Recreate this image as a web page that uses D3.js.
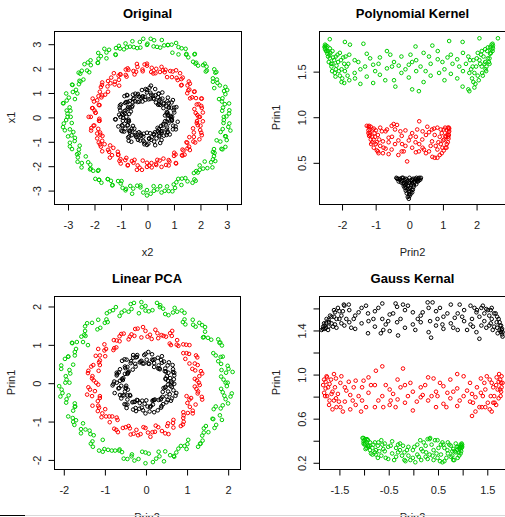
<!DOCTYPE html>
<html>
<head>
<meta charset="utf-8">
<script src="https://cdn.jsdelivr.net/npm/d3@7"></script>
<style>
  body { margin: 0; background: #fff; }
  svg { display: block; }
</style>
</head>
<body>
<script>
const GREEN = '#00cd00', RED = '#ff0000', BLACK = '#000000';

// --- Original (x2 across, x1 up) ---
const origGreen = [
  [3.00,0.02],[2.84,0.25],[3.10,0.55],[2.85,0.76],[2.91,1.06],[2.54,1.18],[2.64,1.53],[2.62,1.84],[2.22,1.86],
  [2.12,2.12],[1.83,2.18],[1.81,2.58],[1.48,2.55],[1.31,2.81],[0.96,2.63],[0.79,2.95],[0.56,3.15],[0.25,2.89],
  [0.02,3.00],[-0.25,2.84],[-0.55,3.10],[-0.76,2.85],[-1.06,2.91],[-1.18,2.54],[-1.53,2.64],[-1.84,2.62],[-1.86,2.22],
  [-2.12,2.12],[-2.18,1.83],[-2.58,1.81],[-2.55,1.48],[-2.81,1.31],[-2.63,0.96],[-2.95,0.79],[-3.15,0.56],[-2.89,0.25],
  [-3.00,0.00],[-2.84,-0.25],[-3.10,-0.55],[-2.85,-0.76],[-2.91,-1.06],[-2.54,-1.18],[-2.64,-1.53],[-2.62,-1.84],[-2.22,-1.86],
  [-2.12,-2.12],[-1.83,-2.18],[-1.81,-2.58],[-1.48,-2.55],[-1.31,-2.81],[-0.96,-2.63],[-0.79,-2.95],[-0.56,-3.15],[-0.25,-2.89],
  [0.00,-3.00],[0.25,-2.84],[0.55,-3.10],[0.76,-2.85],[1.06,-2.91],[1.18,-2.54],[1.53,-2.64],[1.84,-2.62],[1.86,-2.22],
  [2.12,-2.12],[2.18,-1.83],[2.58,-1.81],[2.55,-1.48],[2.81,-1.31],[2.63,-0.96],[2.95,-0.79],[3.15,-0.56],[2.89,-0.25],
  [3.10,0.14],[2.83,0.63],[2.96,1.23],[2.49,1.58],[2.25,2.06],[1.74,2.26],[1.46,2.79],[0.93,2.96],[0.38,2.87],
  [-0.14,3.20],[-0.64,2.88],[-1.17,2.82],[-1.53,2.40],[-2.13,2.32],[-2.46,1.89],[-2.57,1.34],[-3.05,0.96],[-2.92,0.39],
  [-3.05,-0.13],[-2.78,-0.62],[-2.91,-1.21],[-2.61,-1.66],[-2.14,-1.96],[-1.95,-2.54],[-1.36,-2.62],[-0.92,-2.91],[-0.37,-2.82],
  [0.14,-3.15],[0.67,-3.03],[1.11,-2.68],[1.72,-2.70],[1.99,-2.17],[2.42,-1.86],[2.53,-1.32],[3.01,-0.95],[3.07,-0.41],
  [2.87,0.38],[2.96,0.93],[2.66,1.39],[2.54,1.95],[1.93,2.10],[1.56,2.44],[1.19,2.86],[0.65,2.93],[0.14,3.20],
  [-0.37,2.82],[-0.87,2.77],[-1.43,2.75],[-1.83,2.38],[-2.36,2.16],[-2.40,1.53],[-2.68,1.11],[-3.03,0.67],[-3.00,0.13],
  [-3.17,-0.42],[-2.72,-0.86],[-2.57,-1.34],[-2.46,-1.89],[-2.03,-2.21],[-1.72,-2.70],[-1.09,-2.63],[-0.63,-2.83],[-0.14,-3.10],
  [0.39,-2.97],[0.96,-3.05],[1.32,-2.53],[1.77,-2.30],[2.28,-2.10],[2.53,-1.61],[2.96,-1.23],[2.78,-0.62],[2.90,-0.13],
  [2.90,0.00],[3.11,0.27],[2.94,0.52],[2.72,0.73],[3.03,1.10],[2.75,1.29],[2.49,1.44],[2.58,1.81],[2.26,1.90],
  [2.18,2.18],[1.86,2.22],[1.79,2.56],[1.49,2.58],[1.19,2.56],[1.10,3.03],[0.79,2.94],[0.50,2.84],[0.27,3.14],
  [0.00,2.95],[-0.27,3.07],[-0.50,2.86],[-0.81,3.01],[-1.02,2.80],[-1.19,2.56],[-1.61,2.79],[-1.74,2.49],[-1.85,2.21],
  [-2.23,2.23],[-2.26,1.90],[-2.52,1.77],[-2.51,1.45],[-2.83,1.32],[-2.80,1.02],[-2.72,0.73],[-3.17,0.56],[-3.03,0.26],
  [-2.88,0.00],[-3.14,-0.27],[-2.91,-0.51],[-2.98,-0.80],[-2.73,-0.99],[-2.83,-1.32],[-2.58,-1.49],[-2.31,-1.62],[-2.47,-2.07],
  [-2.15,-2.15],[-1.85,-2.21],[-1.81,-2.58],[-1.48,-2.55],[-1.30,-2.79],[-0.99,-2.73],[-0.81,-3.01],[-0.52,-2.94],[-0.25,-2.81],
  [0.00,-3.22],[0.26,-3.03],[0.50,-2.84],[0.82,-3.04],[1.01,-2.77],[1.30,-2.79],[1.45,-2.51],[1.79,-2.56],[1.92,-2.28],
  [1.99,-1.99],[2.47,-2.07],[2.49,-1.74],[2.49,-1.44],[2.85,-1.33],[2.77,-1.01],[2.98,-0.80],[2.86,-0.50],[3.11,-0.27]
];
const origRed = [
  [2.00,0.00],[1.84,0.16],[2.07,0.37],[1.88,0.51],[2.07,0.75],[1.63,0.76],[1.78,1.03],[1.56,1.09],[1.53,1.29],
  [1.31,1.31],[1.35,1.61],[1.12,1.60],[1.10,1.91],[0.76,1.63],[0.70,1.93],[0.49,1.84],[0.35,1.97],[0.16,1.84],
  [0.00,2.10],[-0.17,1.94],[-0.38,2.17],[-0.47,1.74],[-0.70,1.93],[-0.80,1.72],[-1.00,1.73],[-1.06,1.52],[-1.35,1.61],
  [-1.38,1.38],[-1.69,1.41],[-1.47,1.03],[-1.78,1.03],[-1.72,0.80],[-1.88,0.68],[-1.79,0.48],[-2.07,0.36],[-1.94,0.17],
  [-2.20,0.00],[-1.79,-0.16],[-2.02,-0.36],[-1.84,-0.49],[-1.88,-0.68],[-1.68,-0.78],[-1.82,-1.05],[-1.60,-1.12],[-1.69,-1.41],
  [-1.27,-1.27],[-1.32,-1.57],[-1.09,-1.56],[-1.00,-1.73],[-0.78,-1.68],[-0.72,-1.97],[-0.51,-1.88],[-0.38,-2.17],[-0.16,-1.79],
  [0.00,-2.05],[0.17,-1.89],[0.35,-1.97],[0.48,-1.79],[0.72,-1.97],[0.82,-1.77],[1.10,-1.91],[1.03,-1.47],[1.32,-1.57],
  [1.34,-1.34],[1.53,-1.29],[1.52,-1.06],[1.82,-1.05],[1.77,-0.82],[2.07,-0.75],[1.74,-0.47],[2.02,-0.36],[1.89,-0.17],
  [1.90,0.08],[2.05,0.45],[1.85,0.77],[1.52,0.97],[1.58,1.45],[1.16,1.51],[0.97,1.86],[0.60,1.91],[0.24,1.78],
  [-0.09,2.15],[-0.41,1.85],[-0.80,1.94],[-1.07,1.69],[-1.22,1.33],[-1.70,1.31],[-1.69,0.88],[-2.00,0.63],[-1.98,0.26],
  [-1.80,-0.08],[-2.10,-0.46],[-1.76,-0.73],[-1.77,-1.13],[-1.47,-1.35],[-1.10,-1.43],[-0.99,-1.91],[-0.57,-1.81],[-0.28,-2.08],
  [0.09,-2.00],[0.39,-1.76],[0.82,-1.99],[1.02,-1.60],[1.42,-1.55],[1.59,-1.22],[1.60,-0.83],[2.05,-0.65],[1.88,-0.25],
  [-1.05,1.28],
  [1.95,0.00],[2.11,0.18],[1.79,0.32],[1.95,0.52],[2.05,0.75],[1.70,0.80],[1.80,1.04],[1.60,1.12],[1.62,1.36],
  [1.29,1.29],[1.30,1.55],[1.25,1.79],[0.94,1.63],[0.88,1.88],[0.67,1.83],[0.55,2.05],[0.32,1.79],[0.18,2.01],
  [0.00,2.18],[-0.16,1.87],[-0.36,2.05],[-0.51,1.88],[-0.73,1.99],[-0.77,1.65],[-1.01,1.75],[-1.25,1.79],[-1.21,1.44],
  [-1.47,1.47],[-1.49,1.25],[-1.74,1.22],[-1.58,0.91],[-1.83,0.85],[-2.05,0.75],[-1.82,0.49],[-2.05,0.36],[-1.94,0.17],
  [-2.12,0.00],[-1.81,-0.16],[-1.99,-0.35],[-2.11,-0.56],[-1.77,-0.64],[-1.88,-0.88],[-1.69,-0.98],[-1.74,-1.22],[-1.39,-1.17],
  [-1.43,-1.43],[-1.40,-1.67],[-1.08,-1.54],[-1.04,-1.80],[-0.82,-1.77],[-0.73,-1.99],[-0.47,-1.76],[-0.35,-1.99],[-0.19,-2.17],
  [0.00,-1.88],[0.18,-2.07],[0.34,-1.92],[0.55,-2.05],[0.62,-1.71],[0.85,-1.83],[1.09,-1.89],[1.08,-1.54],[1.34,-1.59],
  [1.38,-1.38],[1.62,-1.36],[1.49,-1.04],[1.75,-1.01],[1.98,-0.92],[1.77,-0.64],[2.01,-0.54],[1.92,-0.34],[2.11,-0.18]
];
const origBlack = [
  [0.95,0.00],[0.74,0.13],[1.03,0.38],[0.74,0.43],[0.77,0.64],[0.45,0.54],[0.58,1.00],[0.32,0.89],[0.13,0.74],
  [0.00,1.10],[-0.15,0.84],[-0.34,0.94],[-0.35,0.61],[-0.74,0.88],[-0.73,0.61],[-0.65,0.38],[-1.03,0.38],[-0.84,0.15],
  [-1.00,0.00],[-0.69,-0.12],[-1.08,-0.39],[-0.82,-0.48],[-0.57,-0.48],[-0.71,-0.84],[-0.43,-0.74],[-0.34,-0.94],[-0.12,-0.69],
  [0.00,-1.15],[0.16,-0.94],[0.26,-0.70],[0.55,-0.95],[0.55,-0.65],[0.77,-0.64],[0.61,-0.35],[1.08,-0.39],[0.94,-0.16],
  [0.80,0.07],[1.01,0.27],[0.82,0.38],[0.98,0.69],[0.49,0.49],[0.46,0.66],[0.44,0.95],[0.23,0.87],[0.10,1.20],
  [-0.06,0.70],[-0.21,0.77],[-0.44,0.95],[-0.52,0.74],[-0.85,0.85],[-0.57,0.40],[-0.73,0.34],[-1.01,0.27],[-0.90,0.08],
  [-1.20,-0.10],[-0.68,-0.18],[-0.72,-0.34],[-0.86,-0.60],[-0.64,-0.64],[-0.69,-0.98],[-0.30,-0.63],[-0.21,-0.77],[-0.09,-1.05],
  [0.08,-0.90],[0.31,-1.16],[0.30,-0.63],[0.46,-0.66],[0.74,-0.74],[0.74,-0.52],[1.09,-0.51],[0.68,-0.18],[0.80,-0.07],
  [0.90,0.04],[0.78,0.17],[0.92,0.38],[0.93,0.59],[0.63,0.57],[0.58,0.75],[0.42,0.80],[0.24,0.76],[0.13,0.99],
  [-0.05,1.14],[-0.18,0.83],[-0.36,0.88],[-0.48,0.76],[-0.54,0.59],[-0.79,0.61],[-0.98,0.51],[-0.81,0.26],[-0.94,0.12],
  [-0.90,-0.04],[-0.78,-0.17],[-0.92,-0.38],[-0.93,-0.59],[-0.63,-0.57],[-0.58,-0.75],[-0.42,-0.80],[-0.24,-0.76],[-0.13,-0.99],
  [0.05,-1.10],[0.18,-0.83],[0.36,-0.88],[0.48,-0.76],[0.54,-0.59],[0.79,-0.61],[0.98,-0.51],[0.81,-0.26],[0.94,-0.12],
  [0.40,-0.45],[0.45,-0.50],[0.15,1.28],
  [0.88,0.00],[0.68,0.06],[1.03,0.18],[0.75,0.20],[1.11,0.40],[0.83,0.39],[0.62,0.36],[0.82,0.57],[0.63,0.53],
  [0.79,0.79],[0.42,0.50],[0.50,0.72],[0.34,0.59],[0.44,0.95],[0.27,0.73],[0.31,1.14],[0.16,0.91],[0.06,0.72],
  [0.00,1.00],[-0.07,0.82],[-0.19,1.10],[-0.17,0.63],[-0.30,0.83],[-0.29,0.62],[-0.53,0.91],[-0.45,0.64],[-0.76,0.90],
  [-0.65,0.65],[-0.55,0.46],[-0.82,0.57],[-0.71,0.41],[-1.02,0.47],[-0.61,0.22],[-0.85,0.23],[-0.67,0.12],[-1.05,0.09],
  [-0.78,0.00],[-1.18,-0.10],[-0.91,-0.16],[-0.70,-0.19],[-0.94,-0.34],[-0.74,-0.35],[-0.97,-0.56],[-0.53,-0.37],[-0.67,-0.57],
  [-0.48,-0.48],[-0.67,-0.80],[-0.45,-0.64],[-0.59,-1.02],[-0.39,-0.83],[-0.25,-0.68],[-0.26,-0.97],[-0.14,-0.81],[-0.10,-1.12],
  [0.00,-0.65],[0.08,-0.88],[0.12,-0.67],[0.27,-1.01],[0.27,-0.73],[0.50,-1.07],[0.46,-0.80],[0.41,-0.59],[0.64,-0.77],
  [0.58,-0.58],[0.86,-0.72],[0.53,-0.37],[0.76,-0.44],[0.62,-0.29],[0.99,-0.36],[0.75,-0.20],[1.16,-0.20],[0.92,-0.08]
];

// --- Polynomial Kernel (Prin2 across, Prin1 up) ---
const polyGreen = [
  [2.50,1.78],[2.50,1.75],[2.49,1.80],[2.49,1.72],[2.46,1.74],[2.46,1.79],[2.42,1.76],[2.42,1.69],[2.35,1.64],[2.35,1.76],
  [2.27,1.74],[2.27,1.60],[2.17,1.55],[2.17,1.72],[2.05,1.70],[2.05,1.45],[1.92,1.38],[1.92,1.62],[1.77,1.66],[1.77,1.30],
  [1.61,1.50],[1.61,1.70],[1.44,1.42],[1.44,1.63],[1.25,1.68],[1.25,1.47],[1.06,1.52],[1.06,1.40],[0.86,1.63],[0.86,1.72],
  [0.65,1.45],[0.65,1.58],[0.44,1.70],[0.44,1.38],[0.22,1.50],[0.22,1.62],[0.00,1.57],[0.00,1.43],
  [-0.22,1.66],[-0.22,1.48],[-0.44,1.40],[-0.44,1.60],[-0.65,1.72],[-0.65,1.53],[-0.86,1.46],[-0.86,1.65],[-1.06,1.57],[-1.06,1.37],
  [-1.25,1.69],[-1.25,1.44],[-1.44,1.52],[-1.44,1.36],[-1.61,1.62],[-1.61,1.48],[-1.77,1.40],[-1.77,1.68],[-1.92,1.58],[-1.92,1.37],
  [-2.05,1.45],[-2.05,1.70],[-2.17,1.66],[-2.17,1.52],[-2.27,1.58],[-2.27,1.72],[-2.35,1.75],[-2.35,1.64],[-2.42,1.69],[-2.42,1.77],
  [-2.46,1.78],[-2.46,1.72],[-2.49,1.74],[-2.49,1.79],[-2.50,1.77],[-2.50,1.76],
  [2.65,1.86],[2.10,1.86],[1.60,1.82],[1.20,1.83],[0.70,1.78],[0.20,1.77],[-1.35,1.80],[-1.90,1.82],[-2.35,1.85],[-1.75,1.79],
  [0.10,1.30],[0.30,1.28],[-0.40,1.33],[1.80,1.28],[1.60,1.33],[-2.00,1.38],
  [2.30,1.50],[2.20,1.45],[2.00,1.55],[1.95,1.48],[2.10,1.62],[2.25,1.58],[-2.30,1.55],[-2.20,1.48],[-2.10,1.60],[-2.00,1.52],
  [-1.95,1.65],[-2.25,1.65],[1.85,1.52],[-1.85,1.55],[2.38,1.60],[-2.38,1.60],
  [0.50,1.50],[-0.50,1.55],[1.00,1.60],[-1.00,1.50],[0.10,1.60],[-0.10,1.52],[1.50,1.55],[-1.50,1.60],
  [-2.44,1.72],[-2.40,1.66],[-2.33,1.70],[-2.31,1.58],[-2.22,1.62],[-2.18,1.44],[-2.12,1.68],[-2.08,1.50],[-2.02,1.62],[-1.98,1.42],
  [-1.90,1.50],[-1.88,1.66],[-1.82,1.45],[-1.80,1.58],[-2.28,1.50],[-2.15,1.56],[-2.40,1.72],[-2.36,1.68],
  [2.44,1.70],[2.40,1.64],[2.33,1.72],[2.31,1.55],[2.22,1.66],[2.18,1.48],[2.12,1.58],[2.08,1.40],[2.02,1.64],[1.98,1.36],
  [1.90,1.55],[1.88,1.42],[1.82,1.62],[1.80,1.48],[2.28,1.52],[2.15,1.68],[2.40,1.58],[1.95,1.32],
  [-1.60,1.42],[-1.30,1.55],[-0.90,1.58],[-0.70,1.40],[-0.30,1.56],[0.35,1.55],[0.60,1.66],[0.90,1.48],[1.30,1.58],[1.70,1.58],
  [-1.15,1.64],[1.15,1.65],[0.05,1.68],[-0.55,1.68]
];
const polyRed = [
  [1.20,0.87],[1.20,0.84],[1.19,0.80],[1.19,0.88],[1.18,0.83],[1.18,0.76],[1.16,0.88],[1.16,0.72],[1.13,0.70],[1.13,0.85],
  [1.09,0.79],[1.09,0.66],[1.04,0.86],[1.04,0.63],[0.98,0.60],[0.98,0.82],[0.92,0.78],[0.92,0.58],[0.85,0.88],[0.85,0.64],
  [0.77,0.55],[0.77,0.80],[0.69,0.73],[0.69,0.86],[0.60,0.62],[0.60,0.83],[0.51,0.80],[0.51,0.60],[0.41,0.66],[0.41,0.84],
  [0.31,0.95],[0.31,0.70],[0.21,0.61],[0.21,0.78],[0.10,0.82],[0.10,0.66],[0.00,0.74],[-0.05,0.51],
  [-0.10,0.68],[-0.10,0.85],[-0.21,0.79],[-0.21,0.62],[-0.31,0.58],[-0.31,0.74],[-0.41,0.86],[-0.41,0.70],[-0.51,0.64],[-0.51,0.90],
  [-0.60,0.77],[-0.60,0.59],[-0.69,0.84],[-0.69,0.65],[-0.77,0.60],[-0.77,0.73],[-0.85,0.88],[-0.85,0.68],[-0.92,0.62],[-0.92,0.80],
  [-0.98,0.85],[-0.98,0.70],[-1.04,0.66],[-1.04,0.87],[-1.09,0.78],[-1.09,0.72],[-1.13,0.89],[-1.13,0.75],[-1.16,0.82],[-1.16,0.86],
  [-1.18,0.90],[-1.18,0.79],[-1.20,0.85],[-1.20,0.89],
  [-1.25,0.90],[0.55,0.89],[-0.45,0.92],[-0.35,0.91],[0.85,0.55],[0.70,0.56],[-0.90,0.60],[1.05,0.75],[-1.05,0.75],[0.95,0.70],
  [-0.95,0.72],[0.20,0.72],[-0.20,0.70],[0.40,0.75],[-0.60,0.72],[1.10,0.78],
  [1.15,0.80],[1.12,0.66],[1.08,0.88],[1.00,0.66],[0.95,0.86],[0.88,0.72],[0.80,0.68],[0.75,0.87],[1.17,0.78],[1.02,0.74],
  [-1.15,0.80],[-1.12,0.70],[-1.08,0.86],[-1.00,0.78],[-0.95,0.63],[-0.88,0.75],[-0.80,0.84],[-0.75,0.66],[-1.20,0.82],[-1.02,0.82],
  [0.30,0.62],[-0.15,0.62],[0.65,0.68],[-0.65,0.86],[0.45,0.64],[-0.50,0.78],[0.05,0.78],[0.25,0.86],[-0.25,0.84]
];
const polyBlack = [
  [0.00,0.10],[0.02,0.13],[-0.03,0.12],[0.05,0.15],[-0.06,0.16],[0.00,0.18],[0.08,0.20],[-0.09,0.19],[0.04,0.22],[-0.02,0.24],
  [0.12,0.20],[-0.12,0.22],[0.15,0.25],[-0.15,0.24],[0.10,0.27],[-0.10,0.28],[0.00,0.28],[0.05,0.30],[-0.06,0.31],[0.18,0.28],
  [-0.18,0.27],[0.20,0.31],[-0.21,0.30],[0.24,0.30],[-0.25,0.32],[0.28,0.32],[-0.28,0.31],[0.31,0.33],[-0.32,0.32],[0.34,0.31],
  [-0.35,0.32],[0.13,0.32],[-0.13,0.31],[0.22,0.26],[-0.23,0.28],[0.07,0.25],[-0.04,0.20],[0.10,0.17],[-0.08,0.26],[0.16,0.29],
  [-0.17,0.33],[0.27,0.29],
  [0.01,0.15],[-0.01,0.21],[0.03,0.27],[-0.05,0.29],[0.09,0.31],[-0.09,0.32],[0.14,0.23],[-0.14,0.27],[0.19,0.32],[-0.20,0.33],
  [0.23,0.33],[0.30,0.30],[-0.30,0.29],[0.06,0.18],[-0.07,0.22],[0.11,0.30],[-0.11,0.25],[0.36,0.33],[-0.37,0.33],[0.02,0.33]
];

// --- Linear PCA (Prin2 across, Prin1 up) ---
const pcaGreen = [
  [1.95,0.00],[1.84,0.16],[2.02,0.36],[1.84,0.49],[1.88,0.68],[1.65,0.77],[1.80,1.04],[1.60,1.12],[1.42,1.19],
  [1.45,1.45],[1.22,1.46],[1.15,1.64],[0.91,1.58],[0.88,1.88],[0.67,1.83],[0.48,1.79],[0.36,2.02],[0.17,1.89],
  [0.00,2.00],[-0.16,1.81],[-0.36,2.05],[-0.51,1.88],[-0.63,1.74],[-0.87,1.86],[-0.95,1.65],[-1.15,1.64],[-1.17,1.39],
  [-1.47,1.47],[-1.49,1.25],[-1.52,1.06],[-1.78,1.03],[-1.72,0.80],[-1.88,0.68],[-1.76,0.47],[-2.05,0.36],[-1.94,0.17],
  [-1.85,0.00],[-2.04,-0.18],[-1.87,-0.33],[-1.93,-0.52],[-1.71,-0.62],[-1.88,-0.88],[-1.69,-0.98],[-1.52,-1.06],[-1.57,-1.32],
  [-1.34,-1.34],[-1.29,-1.53],[-1.04,-1.49],[-1.04,-1.80],[-0.82,-1.77],[-0.63,-1.74],[-0.53,-1.98],[-0.33,-1.87],[-0.17,-1.99],
  [0.00,-1.82],[0.18,-2.07],[0.34,-1.92],[0.48,-1.79],[0.70,-1.93],[0.80,-1.72],[1.00,-1.73],[1.04,-1.49],[1.34,-1.59],
  [1.38,-1.38],[1.42,-1.19],[1.68,-1.18],[1.65,-0.95],[1.81,-0.85],[1.71,-0.62],[2.01,-0.54],[1.92,-0.34],[1.84,-0.16],
  [1.90,0.08],[2.00,0.44],[1.71,0.71],[1.77,1.13],[1.45,1.33],[1.16,1.51],[0.95,1.82],[0.56,1.76],[0.28,2.08],
  [-0.09,1.97],[-0.41,1.85],[-0.79,1.89],[-0.99,1.56],[-1.42,1.55],[-1.56,1.20],[-1.69,0.88],[-1.96,0.62],[-1.83,0.24],
  [-2.10,-0.09],[-1.92,-0.43],[-1.76,-0.73],[-1.73,-1.10],[-1.36,-1.25],[-1.28,-1.67],[-0.91,-1.75],[-0.57,-1.81],[-0.27,-2.03],
  [0.08,-1.85],[0.45,-2.05],[0.75,-1.82],[1.02,-1.60],[1.39,-1.51],[1.47,-1.13],[1.86,-0.97],[1.88,-0.59],[1.88,-0.25],
  [2.12,0.28],[2.10,-0.28],[-0.10,2.10],[-1.40,0.98],
  [1.96,0.26],[1.77,0.56],[1.86,0.97],[1.52,1.17],[1.38,1.50],[0.97,1.52],[0.77,1.85],[0.43,1.93],[0.08,1.86],
  [-0.28,2.08],[-0.58,1.83],[-0.94,1.81],[-1.10,1.43],[-1.47,1.35],[-1.67,1.06],[-1.72,0.71],[-2.05,0.45],[-1.92,0.08],
  [-2.02,-0.27],[-1.72,-0.54],[-1.77,-0.92],[-1.57,-1.21],[-1.26,-1.37],[-1.13,-1.77],[-0.74,-1.77],[-0.44,-1.99],[-0.08,-1.80],
  [0.26,-1.98],[0.60,-1.89],[0.86,-1.65],[1.28,-1.67],[1.42,-1.30],[1.72,-1.10],[1.66,-0.69],[1.95,-0.43],[1.98,-0.09],
  [2.00,0.00],[1.85,0.33],[1.83,0.67],[1.82,1.05],[1.40,1.18],[1.31,1.56],[0.95,1.65],[0.71,1.95],[0.35,1.97],
  [0.00,1.88],[-0.34,1.92],[-0.72,1.97],[-0.92,1.58],[-1.30,1.56],[-1.46,1.22],[-1.79,1.04],[-1.88,0.68],[-1.85,0.33],
  [-1.95,0.00],[-2.07,-0.36],[-1.72,-0.63],[-1.76,-1.02],[-1.46,-1.22],[-1.33,-1.59],[-1.00,-1.73],[-0.64,-1.77],[-0.34,-1.92],
  [0.00,-2.10],[0.32,-1.80],[0.69,-1.91],[0.95,-1.65],[1.33,-1.59],[1.53,-1.29],[1.63,-0.94],[1.83,-0.67],[2.07,-0.36]
];
const pcaRed = [
  [1.30,0.00],[1.20,0.10],[1.38,0.24],[1.21,0.32],[1.27,0.46],[1.07,0.50],[1.23,0.71],[1.06,0.75],[0.92,0.77],
  [0.99,0.99],[0.80,0.96],[0.77,1.11],[0.59,1.02],[0.60,1.29],[0.44,1.22],[0.31,1.16],[0.24,1.38],[0.11,1.25],
  [0.00,1.35],[-0.10,1.18],[-0.25,1.40],[-0.34,1.26],[-0.41,1.13],[-0.59,1.27],[-0.63,1.08],[-0.77,1.11],[-0.76,0.90],
  [-1.00,1.00],[-1.00,0.84],[-0.98,0.69],[-1.21,0.70],[-1.13,0.53],[-1.27,0.46],[-1.14,0.31],[-1.40,0.25],[-1.30,0.11],
  [-1.20,0.00],[-1.39,-0.12],[-1.23,-0.22],[-1.30,-0.35],[-1.11,-0.40],[-1.29,-0.60],[-1.13,-0.65],[-0.98,-0.69],[-1.07,-0.90],
  [-0.88,-0.88],[-0.87,-1.03],[-0.68,-0.97],[-0.71,-1.23],[-0.55,-1.18],[-0.41,-1.13],[-0.36,-1.35],[-0.22,-1.23],[-0.12,-1.34],
  [0.00,-1.18],[0.12,-1.41],[0.23,-1.28],[0.31,-1.16],[0.48,-1.32],[0.53,-1.13],[0.68,-1.17],[0.68,-0.97],[0.91,-1.09],
  [0.92,-0.92],[0.92,-0.77],[1.15,-0.80],[1.08,-0.63],[1.22,-0.57],[1.11,-0.40],[1.37,-0.37],[1.28,-0.23],[1.20,-0.10],
  [1.25,0.06],[1.35,0.30],[1.20,0.50],[0.97,0.62],[1.07,0.98],[0.76,0.99],[0.64,1.22],[0.39,1.24],[0.15,1.14],
  [-0.06,1.45],[-0.27,1.22],[-0.53,1.28],[-0.70,1.10],[-0.78,0.85],[-1.15,0.88],[-1.11,0.58],[-1.32,0.42],[-1.29,0.17],
  [-1.15,-0.05],[-1.42,-0.31],[-1.16,-0.48],[-1.16,-0.74],[-0.96,-0.88],[-0.70,-0.91],[-0.67,-1.29],[-0.38,-1.19],[-0.18,-1.37],
  [0.06,-1.30],[0.25,-1.12],[0.56,-1.34],[0.67,-1.05],[0.93,-1.02],[1.03,-0.79],[1.02,-0.53],[1.38,-0.44],[1.24,-0.16],
  [0.65,1.35],[1.00,-0.35],
  [1.31,0.17],[1.14,0.36],[1.26,0.66],[1.00,0.77],[0.92,1.00],[0.62,0.98],[0.50,1.20],[0.29,1.29],[0.05,1.20],
  [-0.19,1.41],[-0.38,1.20],[-0.63,1.21],[-0.71,0.92],[-0.96,0.88],[-1.11,0.71],[-1.11,0.46],[-1.39,0.31],[-1.26,0.06],
  [-1.35,-0.18],[-1.11,-0.35],[-1.15,-0.60],[-1.05,-0.80],[-0.81,-0.88],[-0.76,-1.20],[-0.48,-1.16],[-0.29,-1.33],[-0.05,-1.16],
  [0.17,-1.29],[0.40,-1.26],[0.55,-1.06],[0.86,-1.13],[0.93,-0.85],[1.15,-0.73],[1.07,-0.44],[1.27,-0.28],[1.32,-0.06]
];
const pcaBlack = [
  [0.65,0.00],[0.49,0.09],[0.70,0.26],[0.50,0.29],[0.54,0.45],[0.31,0.37],[0.40,0.69],[0.22,0.61],[0.09,0.49],
  [0.00,0.75],[-0.10,0.57],[-0.24,0.66],[-0.24,0.42],[-0.51,0.61],[-0.50,0.42],[-0.43,0.25],[-0.70,0.26],[-0.57,0.10],
  [-0.70,0.00],[-0.47,-0.08],[-0.75,-0.27],[-0.56,-0.33],[-0.38,-0.32],[-0.48,-0.57],[-0.29,-0.50],[-0.24,-0.66],[-0.08,-0.47],
  [0.00,-0.80],[0.11,-0.64],[0.17,-0.47],[0.38,-0.65],[0.37,-0.44],[0.54,-0.45],[0.42,-0.24],[0.75,-0.27],[0.64,-0.11],
  [0.55,0.05],[0.70,0.19],[0.56,0.26],[0.66,0.46],[0.35,0.35],[0.32,0.45],[0.30,0.65],[0.16,0.60],[0.07,0.80],
  [-0.04,0.50],[-0.14,0.53],[-0.30,0.65],[-0.36,0.51],[-0.57,0.57],[-0.41,0.29],[-0.50,0.23],[-0.70,0.19],[-0.62,0.05],
  [-0.80,-0.07],[-0.48,-0.13],[-0.50,-0.23],[-0.59,-0.41],[-0.44,-0.44],[-0.46,-0.66],[-0.21,-0.45],[-0.14,-0.53],[-0.06,-0.72],
  [0.05,-0.62],[0.21,-0.77],[0.21,-0.45],[0.32,-0.45],[0.51,-0.51],[0.51,-0.36],[0.73,-0.34],[0.48,-0.13],[0.55,-0.05],
  [0.60,0.12],[0.45,0.55],[-0.20,0.72],[-0.62,0.35],[-0.66,-0.15],[-0.30,-0.70],[0.30,-0.72],[0.68,-0.20],
  [0.62,0.03],[0.49,0.11],[0.67,0.28],[0.47,0.30],[0.57,0.53],[0.40,0.52],[0.21,0.41],[0.19,0.59],[0.07,0.50],
  [-0.03,0.72],[-0.12,0.55],[-0.30,0.72],[-0.35,0.56],[-0.31,0.34],[-0.49,0.38],[-0.44,0.23],[-0.69,0.22],[-0.55,0.07],
  [-0.78,-0.03],[-0.64,-0.14],[-0.43,-0.18],[-0.52,-0.33],[-0.37,-0.34],[-0.44,-0.57],[-0.26,-0.50],[-0.23,-0.74],[-0.09,-0.65],
  [0.02,-0.46],[0.13,-0.61],[0.19,-0.46],[0.39,-0.61],[0.38,-0.41],[0.62,-0.47],[0.59,-0.30],[0.44,-0.14],[0.61,-0.08],
  [0.69,0.09],[0.52,0.17],[0.67,0.35],[0.48,0.37],[0.34,0.37],[0.38,0.59],[0.21,0.51],[0.16,0.74],[0.03,0.60],
  [-0.07,0.50],[-0.21,0.67],[-0.25,0.49],[-0.46,0.60],[-0.44,0.41],[-0.42,0.27],[-0.65,0.27],[-0.54,0.12],[-0.76,0.03],
  [-0.59,-0.08],[-0.48,-0.15],[-0.62,-0.32],[-0.44,-0.33],[-0.51,-0.56],[-0.32,-0.51],[-0.19,-0.46],[-0.15,-0.68],[-0.02,-0.55],
  [0.10,-0.75],[0.18,-0.57],[0.23,-0.44],[0.43,-0.56],[0.41,-0.37],[0.64,-0.41],[0.55,-0.23],[0.49,-0.11],[0.70,-0.03]
];

// --- Gauss Kernal (Prin2 across, Prin1 up) ---
const gaussBlack = [
  [1.82,1.38],[1.82,1.34],[1.81,1.41],[1.81,1.36],[1.79,1.44],[1.79,1.38],[1.76,1.47],[1.76,1.40],[1.71,1.42],[1.71,1.52],
  [1.65,1.55],[1.65,1.43],[1.58,1.46],[1.58,1.58],[1.49,1.59],[1.49,1.42],[1.39,1.44],[1.39,1.60],[1.29,1.56],[1.29,1.38],
  [1.17,1.62],[1.17,1.45],[1.04,1.48],[1.04,1.58],[0.91,1.40],[0.91,1.55],[0.77,1.63],[0.77,1.46],[0.62,1.52],[0.62,1.41],
  [0.47,1.57],[0.47,1.44],[0.32,1.38],[0.32,1.60],[0.16,1.53],[0.16,1.47],[0.00,1.45],[0.00,1.56],
  [-0.16,1.58],[-0.16,1.42],[-0.32,1.47],[-0.32,1.61],[-0.47,1.39],[-0.47,1.54],[-0.62,1.64],[-0.62,1.50],[-0.77,1.43],[-0.77,1.57],
  [-0.91,1.55],[-0.91,1.37],[-1.04,1.60],[-1.04,1.46],[-1.17,1.41],[-1.17,1.53],[-1.29,1.58],[-1.29,1.47],[-1.39,1.62],[-1.39,1.44],
  [-1.49,1.50],[-1.49,1.57],[-1.58,1.56],[-1.58,1.45],[-1.65,1.52],[-1.65,1.46],[-1.71,1.49],[-1.71,1.43],[-1.76,1.46],[-1.76,1.42],
  [-1.79,1.44],[-1.79,1.41],[-1.82,1.41],[-1.82,1.43],
  [-1.40,1.63],[-0.35,1.64],[-0.20,1.63],[0.30,1.65],[0.40,1.65],[0.95,1.63],[1.30,1.58],[-0.65,1.37],[-0.30,1.35],[0.37,1.33],
  [1.35,1.32],[-1.60,1.52],[-1.55,1.50],[-1.70,1.47],[1.60,1.50],[1.55,1.53],[1.70,1.47],[1.45,1.55],[-1.45,1.53],[1.20,1.50],
  [-1.20,1.50],[0.50,1.50],[-0.50,1.48],[0.10,1.50],[-0.90,1.48],[0.85,1.51],
  [-1.85,1.40],[-1.80,1.46],[-1.75,1.50],[-1.72,1.40],[-1.68,1.53],[-1.62,1.43],[-1.60,1.58],[-1.55,1.42],[-1.52,1.60],[-1.45,1.46],
  [-1.42,1.57],[-1.35,1.50],[-1.30,1.63],[-1.25,1.42],[1.80,1.40],[1.77,1.44],[1.74,1.50],[1.72,1.37],[1.68,1.55],[1.62,1.40],
  [1.60,1.60],[1.55,1.44],[1.52,1.58],[1.45,1.48],[1.42,1.62],[1.35,1.52],[1.25,1.60],[1.22,1.43],
  [-1.10,1.56],[-0.95,1.62],[-0.80,1.50],[-0.70,1.60],[-0.55,1.45],[-0.40,1.55],[-0.25,1.50],[-0.10,1.62],[0.05,1.40],[0.20,1.56],
  [0.35,1.48],[0.55,1.60],[0.70,1.55],[0.82,1.42],[1.00,1.52],[1.10,1.40],[-0.60,1.40],[0.60,1.45]
];
const gaussRed = [
  [1.80,0.98],[1.80,0.88],[1.79,0.92],[1.79,0.84],[1.77,0.86],[1.77,0.95],[1.74,0.78],[1.74,0.93],[1.69,0.90],[1.69,0.72],
  [1.63,0.74],[1.63,0.88],[1.56,0.95],[1.56,0.68],[1.47,0.70],[1.47,0.86],[1.38,0.83],[1.38,0.96],[1.27,0.66],[1.27,0.79],
  [1.16,0.92],[1.16,0.75],[1.03,0.80],[1.03,0.98],[0.90,0.71],[0.90,0.87],[0.76,0.95],[0.76,0.78],[0.62,0.73],[0.62,0.89],
  [0.47,0.84],[0.47,0.70],[0.31,0.97],[0.31,0.76],[0.16,0.79],[0.16,0.88],[0.00,0.67],[0.00,0.84],
  [-0.16,0.90],[-0.16,0.74],[-0.31,0.77],[-0.31,0.95],[-0.47,0.72],[-0.47,0.86],[-0.62,1.07],[-0.62,0.80],[-0.77,0.70],[-0.77,0.90],
  [-0.90,0.83],[-0.90,0.97],[-1.03,0.76],[-1.03,0.88],[-1.16,0.94],[-1.16,0.72],[-1.27,0.81],[-1.27,0.68],[-1.38,0.88],[-1.38,0.75],
  [-1.47,0.70],[-1.47,0.92],[-1.56,0.78],[-1.56,0.96],[-1.63,0.68],[-1.63,0.84],[-1.69,0.91],[-1.69,0.76],[-1.74,0.80],[-1.74,0.97],
  [-1.77,0.87],[-1.77,0.93],[-1.80,0.95],[-1.80,0.83],
  [-0.20,1.05],[-0.75,1.03],[1.20,0.62],[-1.60,1.00],[0.90,1.00],[1.50,0.98],[-1.75,0.98],[1.75,1.00],[0.20,0.81],[-0.40,0.82],
  [0.50,0.80],[1.20,0.82],[-1.10,0.80],[1.65,0.80],[-1.65,0.82],[1.40,0.70],[-1.50,0.75],[1.60,0.66],[-1.55,0.70],[0.70,0.83],
  [-0.10,0.80],[-0.95,0.70],
  [-1.82,0.90],[-1.78,0.80],[-1.72,0.88],[-1.70,0.72],[-1.66,0.95],[-1.60,0.76],[-1.58,0.88],[-1.52,0.82],[-1.45,0.98],[-1.42,0.66],
  [-1.35,0.85],[-1.30,0.93],[-1.22,0.76],[-1.20,0.88],[1.82,0.92],[1.78,0.80],[1.72,0.86],[1.70,0.97],[1.66,0.74],[1.60,0.92],
  [1.58,0.80],[1.52,0.74],[1.45,0.92],[1.42,0.80],[1.35,0.70],[1.30,0.88],[1.22,0.74],[1.10,0.85],
  [-1.05,0.66],[-0.85,0.90],[-0.70,0.76],[-0.55,0.90],[-0.45,0.76],[-0.35,0.70],[-0.25,0.88],[-0.05,0.92],[0.08,0.75],[0.25,0.90],
  [0.38,0.80],[0.55,0.92],[0.68,0.70],[0.82,0.84],[0.95,0.76],[-1.00,0.94],[0.42,0.96],[-0.60,0.70]
];
const gaussGreen = [
  [1.00,0.36],[1.00,0.34],[0.99,0.33],[0.99,0.37],[0.98,0.30],[0.98,0.35],[0.97,0.36],[0.97,0.28],[0.94,0.26],[0.94,0.33],
  [0.91,0.34],[0.91,0.24],[0.87,0.29],[0.87,0.37],[0.82,0.22],[0.82,0.32],[0.77,0.35],[0.77,0.25],[0.71,0.28],[0.71,0.38],
  [0.64,0.21],[0.64,0.33],[0.57,0.36],[0.57,0.27],[0.50,0.24],[0.50,0.40],[0.42,0.31],[0.42,0.22],[0.34,0.41],[0.34,0.27],
  [0.26,0.25],[0.26,0.35],[0.17,0.32],[0.17,0.22],[0.09,0.27],[0.09,0.36],[0.00,0.24],[0.00,0.31],
  [-0.09,0.34],[-0.09,0.26],[-0.17,0.22],[-0.17,0.29],[-0.26,0.37],[-0.26,0.31],[-0.34,0.25],[-0.34,0.33],[-0.42,0.39],[-0.42,0.28],
  [-0.50,0.23],[-0.50,0.34],[-0.57,0.30],[-0.57,0.37],[-0.64,0.26],[-0.64,0.40],[-0.71,0.35],[-0.71,0.24],[-0.77,0.29],[-0.77,0.38],
  [-0.82,0.33],[-0.82,0.27],[-0.87,0.38],[-0.87,0.31],[-0.91,0.35],[-0.91,0.40],[-0.94,0.33],[-0.94,0.38],[-0.97,0.37],[-0.97,0.41],
  [-0.98,0.40],[-0.98,0.36],[-1.00,0.42],[-1.00,0.39],
  [-1.02,0.42],[0.35,0.42],[0.30,0.41],[0.45,0.40],[0.60,0.38],[0.05,0.20],[-0.15,0.21],[0.60,0.20],[0.80,0.26],[0.85,0.30],
  [0.90,0.31],[-0.90,0.34],[0.95,0.32],[-0.60,0.32],[0.20,0.30],[-0.30,0.29],[0.70,0.31],[-0.75,0.31],
  [-1.00,0.37],[-0.96,0.32],[-0.93,0.41],[-0.88,0.35],[-0.85,0.28],[-0.80,0.36],[-0.75,0.27],[-0.68,0.30],[-0.62,0.36],[-0.55,0.24],
  [-0.45,0.35],[-0.38,0.22],[-0.30,0.36],[-0.22,0.26],[-0.12,0.31],[-0.05,0.22],[0.03,0.34],[0.12,0.25],[0.22,0.38],[0.30,0.23],
  [0.38,0.36],[0.48,0.28],[0.55,0.21],[0.62,0.36],[0.68,0.24],[0.74,0.36],[0.80,0.30],[0.84,0.22],[0.89,0.34],[0.93,0.29],
  [0.96,0.34],[0.99,0.35],[0.40,0.26],[-0.70,0.38],[0.15,0.40],[0.52,0.33],[-0.20,0.35],[0.27,0.29]
];

// ticks and their printed labels
const origTicks = [-3, -2, -1, 0, 1, 2, 3];
const origLabels = ['-3', '-2', '-1', '0', '1', '2', '3'];
const polyXTicks = [-2, -1, 0, 1, 2];
const polyXLabels = ['-2', '-1', '0', '1', '2'];
const polyYTicks = [0.5, 1.0, 1.5];
const polyYLabels = ['0.5', '1.0', '1.5'];
const pcaTicks = [-2, -1, 0, 1, 2];
const pcaLabels = ['-2', '-1', '0', '1', '2'];
const gaussXTicks = [-1.5, -1, -0.5, 0, 0.5, 1, 1.5];
const gaussXLabels = ['-1.5', '', '-0.5', '', '0.5', '', '1.5'];
const gaussYTicks = [0.2, 0.4, 0.6, 0.8, 1.0, 1.2, 1.4, 1.6];
const gaussYLabels = ['0.2', '', '0.6', '', '1.0', '', '1.4', ''];

const FONT = '"Liberation Sans", Arial, Helvetica, sans-serif';

const panels = [
  { title: 'Original', xlab: 'x2', ylab: 'x1', box: [54, 31, 241, 204],
    xdom: [-3.51, 3.55], ydom: [-3.57, 3.52],
    xticks: origTicks, xlabels: origLabels, yticks: origTicks, ylabels: origLabels,
    groups: [[origGreen, GREEN], [origRed, RED], [origBlack, BLACK]] },
  { title: 'Polynomial Kernel', xlab: 'Prin2', ylab: 'Prin1', box: [319, 31, 506, 204],
    xdom: [-2.67, 2.89], ydom: [0.043, 1.94],
    xticks: polyXTicks, xlabels: polyXLabels, yticks: polyYTicks, ylabels: polyYLabels,
    groups: [[polyGreen, GREEN], [polyRed, RED], [polyBlack, BLACK]] },
  { title: 'Linear PCA', xlab: 'Prin2', ylab: 'Prin1', box: [54, 296, 240, 469],
    xdom: [-2.226, 2.30], ydom: [-2.25, 2.26],
    xticks: pcaTicks, xlabels: pcaLabels, yticks: pcaTicks, ylabels: pcaLabels,
    groups: [[pcaGreen, GREEN], [pcaRed, RED], [pcaBlack, BLACK]] },
  { title: 'Gauss Kernal', xlab: 'Prin2', ylab: 'Prin1', box: [319, 296, 507, 469],
    xdom: [-1.904, 1.91], ydom: [0.139, 1.708],
    xticks: gaussXTicks, xlabels: gaussXLabels, yticks: gaussYTicks, ylabels: gaussYLabels,
    groups: [[gaussBlack, BLACK], [gaussRed, RED], [gaussGreen, GREEN]] }
];

const svg = d3.select('body')
  .append('svg')
    .attr('width', 505)
    .attr('height', 517)
    .style('font-family', FONT);

svg.append('rect').attr('width', 505).attr('height', 517).attr('fill', '#fff');

panels.forEach(p => {
  const [l, t, r, b] = p.box;
  const x = d3.scaleLinear().domain(p.xdom).range([l, r]);
  const y = d3.scaleLinear().domain(p.ydom).range([b, t]);
  const g = svg.append('g');

  p.groups.forEach(([pts, col]) => {
    g.append('g').selectAll('circle')
      .data(pts)
      .enter()
        .append('circle')
          .attr('cx', d => x(d[0]))
          .attr('cy', d => y(d[1]))
          .attr('r', 1.8)
          .attr('fill', 'none')
          .attr('stroke', col)
          .attr('stroke-width', 1);
  });

  g.append('rect')
    .attr('x', l + 0.5).attr('y', t + 0.5)
    .attr('width', r - l).attr('height', b - t)
    .attr('fill', 'none').attr('stroke', '#000');

  const xa = g.append('g')
    .attr('transform', `translate(0.5,${b + 0.5})`)
    .call(d3.axisBottom(x).tickValues(p.xticks).tickSize(6).tickPadding(11)
      .tickFormat((d, i) => p.xlabels[i]));
  xa.select('.domain').remove();
  xa.attr('font-family', FONT).attr('font-size', 11);
  xa.selectAll('text').attr('fill', '#222');

  const ya = g.append('g')
    .attr('transform', `translate(${l + 0.5},0.5)`)
    .call(d3.axisLeft(y).tickValues(p.yticks).tickSize(6)
      .tickFormat((d, i) => p.ylabels[i]));
  ya.select('.domain').remove();
  ya.attr('font-family', FONT).attr('font-size', 11);
  ya.selectAll('text')
    .attr('x', null)
    .attr('dy', '0.35em')
    .attr('fill', '#222')
    .attr('text-anchor', 'middle')
    .attr('transform', 'translate(-17,0) rotate(-90)');

  const cx = (l + Math.min(r, 506)) / 2;
  g.append('text')
    .attr('x', cx).attr('y', t - 13.5)
    .attr('text-anchor', 'middle')
    .attr('font-size', 13).attr('font-weight', 'bold')
    .text(p.title);

  g.append('text')
    .attr('x', cx).attr('y', b + 48).attr('dy', '0.35em')
    .attr('text-anchor', 'middle').attr('font-size', 11).attr('fill', '#222')
    .text(p.xlab);

  g.append('text')
    .attr('transform', `translate(${l - 43},${(t + b) / 2}) rotate(-90)`)
    .attr('dy', '0.35em')
    .attr('text-anchor', 'middle').attr('font-size', 11).attr('fill', '#222')
    .text(p.ylab);
});

// bottom edge of the captured window
svg.append('line').attr('x1', 0).attr('x2', 25).attr('y1', 515.5).attr('y2', 515.5)
  .attr('stroke', '#000');
svg.append('line').attr('x1', 25).attr('x2', 505).attr('y1', 515.5).attr('y2', 515.5)
  .attr('stroke', '#d9d9d9');
</script>
</body>
</html>
